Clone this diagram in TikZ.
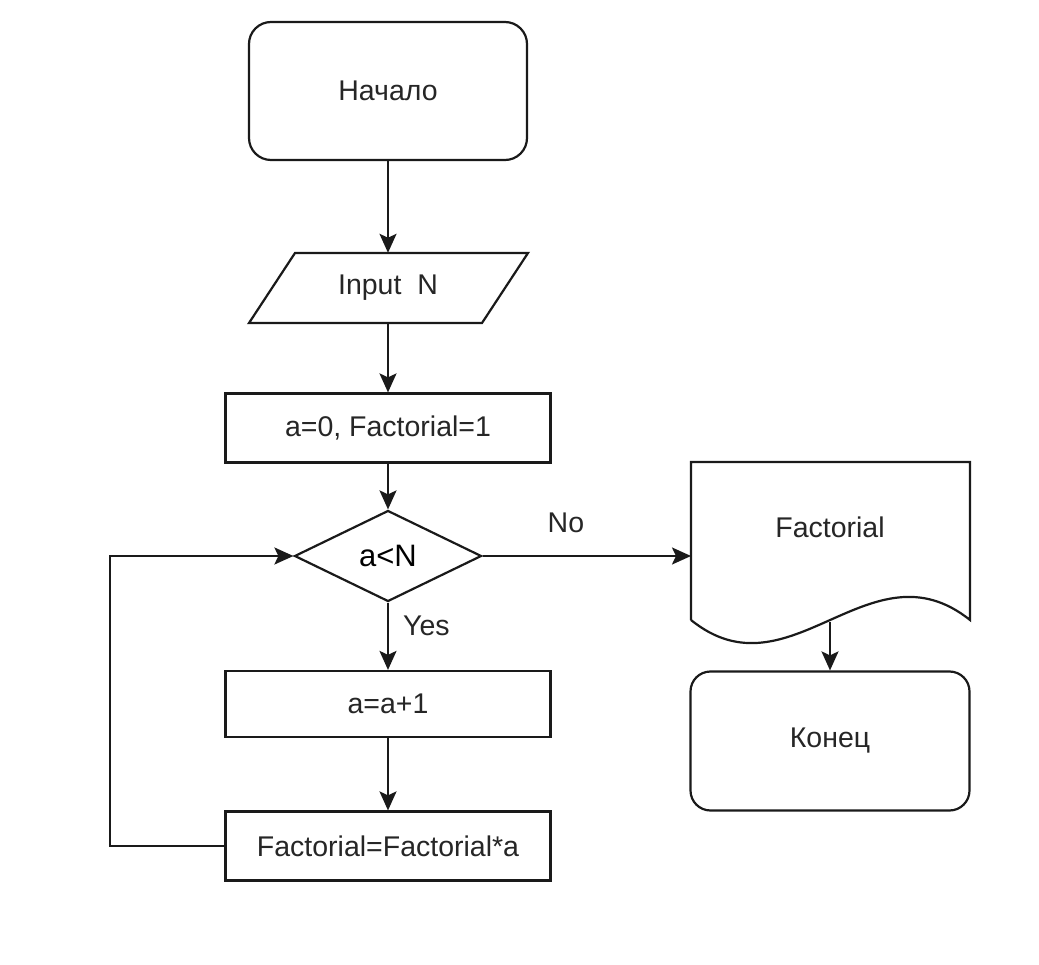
\documentclass[tikz,border=0pt]{standalone}
\usepackage{fontspec}
\setmainfont{Liberation Sans}
\usetikzlibrary{shapes.geometric,arrows.meta}
\definecolor{ln}{HTML}{1A1A1A}
\definecolor{tx}{HTML}{262626}
\begin{document}
\begin{tikzpicture}[x=1pt,y=-1pt,
  every node/.style={font=\fontsize{28.5}{33}\selectfont, text=tx},
  shp/.style={draw=ln, line width=2.2pt},
  boxr/.style={shp, rectangle, rounded corners=22pt, minimum width=278pt, minimum height=138pt, inner sep=0pt},
  procbox/.style={shp, rectangle, minimum width=325pt, minimum height=69pt, inner sep=0pt},
  arr/.style={draw=ln, line width=2.2pt, -{Stealth[length=19pt,width=17pt,inset=4pt]}},
  lbl/.style={inner sep=0pt}
]
\useasboundingbox (0,0) rectangle (1039,965);
\fill[white] (0,0) rectangle (1039,965);

% start
\node[boxr] (start) at (388,91) {Начало};

% input parallelogram
\draw[shp] (295,253) -- (528,253) -- (482,323) -- (249,323) -- cycle;
\node[rectangle, minimum width=230pt, minimum height=70pt, inner sep=0pt] (input) at (388,288) {Input\ \ N};

% init
\node[procbox] (init) at (388,428) {a=0, Factorial=1};

% decision
\node[shp, diamond, minimum width=187pt, minimum height=91pt, inner sep=0pt, aspect=2, font=\fontsize{31}{35}\selectfont, text=black] (cond) at (388,556) {a<N};

% increment
\node[procbox, minimum height=66pt] (inc) at (388,704) {a=a+1};

% multiply
\node[procbox] (mul) at (388,846) {Factorial=Factorial*a};

% document output
\draw[shp] (691,620) -- (691,462) -- (970,462) -- (970,620)
  .. controls (870,540) and (790,700) .. (691,620);
\node[rectangle, minimum width=279pt, minimum height=120pt, inner sep=0pt] (out) at (830,527) {Factorial};
\coordinate (outb) at (830,622);
\coordinate (outl) at (691,556);

% end
\node[boxr, rounded corners=20pt, minimum width=279pt, minimum height=139pt] (end) at (830,741) {Конец};

% connectors
\draw[arr] (start.south) -- (input.north);
\draw[arr] (input.south) -- (init.north);
\draw[arr] (init.south) -- (cond.north);
\draw[arr] (cond.south) -- node[lbl, right=14pt, pos=0.35] {Yes} (inc.north);
\draw[arr] (inc.south) -- (mul.north);
\draw[arr] (cond.east) -- node[lbl, above=22pt, pos=0.4] {No} (outl);
\draw[arr] (outb) -- (end.north);
\coordinate (lp1) at (110,846);
\coordinate (lp2) at (110,556);
\draw[arr] (mul.west) -- (lp1) -- (lp2) -- (cond.west);
\end{tikzpicture}
\end{document}
